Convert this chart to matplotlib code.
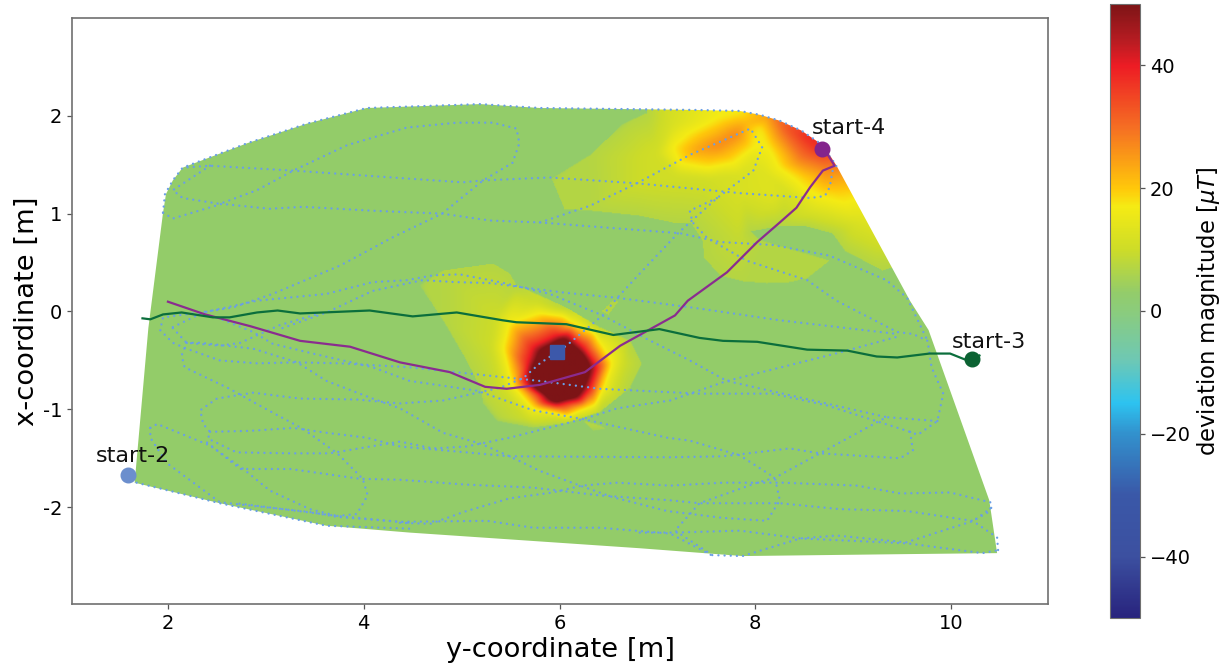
import matplotlib
matplotlib.use('Agg')
import matplotlib.pyplot as plt
import numpy as np
from matplotlib.colors import LinearSegmentedColormap
from matplotlib.patches import Polygon
from matplotlib.path import Path
from matplotlib.tri import Triangulation, LinearTriInterpolator

# colour scale
cmap_values = [-50, -40, -30, -20, -15, -8, 0, 3, 10, 17, 20, 30, 40, 44, 50]
cmap_colors = ['#28237d', '#3c50a0', '#3a58a8', '#3291cd', '#2dc3f0', '#6ec8b4', '#8bcc7c',
               '#93cc6a', '#cddc28', '#f5eb14', '#ffc80a', '#f56e23', '#ed1c24', '#b81c22', '#7d1416']

# measured area outline (y, x)
area_y = [1.66, 1.80, 1.95, 1.98, 2.05, 2.15, 2.81, 3.42, 4.03, 5.19, 5.80, 7.40, 7.84, 8.05, 8.25, 8.47, 8.66, 8.76,
          8.83, 9.58, 9.77, 10.39, 10.47, 9.54, 7.87, 6.82, 4.47, 3.62, 2.53]
area_x = [-1.75, -0.17, 1.01, 1.20, 1.34, 1.47, 1.72, 1.92, 2.08, 2.12, 2.08, 2.06, 2.05, 2.01, 1.95, 1.85, 1.72, 1.60,
          1.49, 0.11, -0.19, -1.93, -2.47, -2.48, -2.50, -2.42, -2.26, -2.19, -1.96]
base_value = 3

# deviation blob around the box: outer edge and inner rings
blob1_edge = [(4.57, 0.27), (4.81, 0.42), (5.32, 0.49), (5.49, 0.39), (5.56, 0.27), (6.07, 0.04), (6.41, -0.16),
              (6.72, -0.30), (6.84, -0.53), (6.72, -0.78), (6.41, -1.03), (6.07, -1.14), (5.73, -1.19),
              (5.36, -1.12), (5.22, -0.94), (5.19, -0.78), (5.05, -0.50), (4.81, -0.09)]
blob1_ring10 = [(5.30, -0.35), (5.35, -0.05), (5.75, 0.10), (6.20, -0.02), (6.50, -0.22), (6.66, -0.53),
                (6.56, -0.82), (6.38, -1.02), (6.00, -1.10), (5.65, -1.08), (5.40, -0.78)]
blob1_ring17 = [(5.43, -0.37), (5.49, -0.12), (5.80, -0.02), (6.14, -0.12), (6.41, -0.33), (6.53, -0.53),
                (6.44, -0.78), (6.28, -0.98), (6.00, -1.04), (5.73, -0.98), (5.52, -0.74)]
blob1_ring40 = [(5.68, -0.53), (5.73, -0.37), (5.97, -0.25), (6.24, -0.37), (6.38, -0.57), (6.31, -0.78),
                (6.03, -0.94), (5.80, -0.84)]
blob1_core = [(5.77, -0.60), (5.87, -0.42), (6.03, -0.33), (6.21, -0.48), (6.24, -0.63), (6.14, -0.84),
              (5.97, -0.89), (5.80, -0.78)]
blip_a = [(6.43, 0.00), (6.55, 0.12), (6.60, 0.10), (6.50, -0.03)]
blip_b = [(6.25, -1.12), (6.42, -1.17), (6.47, -1.20), (6.35, -1.22)]

# deviation blob in the top right corner
blob2_edge = [(6.89, 2.03), (6.65, 1.92), (6.31, 1.60), (5.92, 1.36), (6.05, 1.05), (6.34, 1.03), (6.82, 0.98),
              (7.16, 0.91), (7.35, 0.90), (7.46, 0.73), (7.48, 0.55), (7.64, 0.37), (7.88, 0.31), (8.12, 0.29),
              (8.35, 0.30), (8.53, 0.34), (8.76, 0.52), (8.05, 0.73), (7.95, 0.82), (8.28, 0.88), (8.53, 0.87),
              (8.79, 0.80), (8.92, 0.62), (9.30, 0.42), (9.40, 0.45)]
blob2_cap = [(10.2, 0.45), (9.6, 2.4), (7.0, 2.4)]
blob2_y = [7.16, 7.33, 7.61, 7.84, 7.23, 7.51, 7.77, 7.98, 8.05, 7.61, 7.81, 7.40, 7.91, 8.14, 8.25, 8.49, 8.69,
           9.03, 8.12, 8.32, 8.53, 8.66, 8.45, 8.73, 8.86, 8.53, 8.86, 7.84, 6.82, 6.65, 7.16, 8.18, 7.84, 9.03,
           9.20, 9.5, 9.0, 9.2, 7.9, 7.0, 9.7,
           7.00, 7.15, 7.20, 7.55, 7.85, 8.10, 7.98, 8.30, 8.60]
blob2_x = [1.68, 1.83, 1.97, 2.04, 1.52, 1.47, 1.52, 1.68, 1.87, 1.70, 1.82, 1.65, 1.92, 1.68, 1.47, 1.27, 1.17,
           1.16, 1.98, 1.88, 1.78, 1.68, 1.54, 1.44, 1.41, 1.37, 1.24, 1.24, 1.31, 1.58, 1.92, 1.17, 0.73, 0.90,
           0.62, 0.90, 1.50, 2.20, 2.30, 2.20, 0.45,
           1.62, 1.90, 1.40, 1.36, 1.40, 1.42, 1.58, 1.25, 1.05]
blob2_v = [17, 17, 17, 17, 17, 17, 17, 17, 17, 27, 27, 24, 22, 17, 17, 17, 17,
           17, 24, 33, 38, 38, 27, 27, 25, 20, 20, 12, 10, 9, 12, 13, 9, 12,
           9, 15, 30, 35, 17, 9, 8,
           11, 12, 11, 11, 12, 13, 14, 12, 13]

# walked paths
purple_y = [2.00, 2.38, 2.84, 3.35, 3.86, 4.37, 4.88, 5.24, 5.46, 5.80, 6.26, 6.62, 7.00, 7.18, 7.31, 7.71, 8.02,
            8.25, 8.42, 8.56, 8.69, 8.81, 8.73, 8.68]
purple_x = [0.10, -0.03, -0.15, -0.30, -0.36, -0.52, -0.62, -0.77, -0.79, -0.75, -0.62, -0.35, -0.14, -0.04, 0.11,
            0.40, 0.71, 0.91, 1.06, 1.27, 1.44, 1.49, 1.62, 1.66]
green_y = [1.74, 1.82, 1.95, 2.14, 2.46, 2.63, 2.91, 3.12, 3.35, 4.06, 4.50, 4.95, 5.42, 5.56, 6.07, 6.55, 7.02,
           7.43, 7.67, 8.02, 8.53, 8.94, 9.24, 9.45, 9.78, 9.99, 10.14, 10.21, 10.29]
green_x = [-0.07, -0.08, -0.03, -0.01, -0.06, -0.06, -0.01, 0.01, -0.02, 0.01, -0.05, -0.01, -0.09, -0.11, -0.13,
           -0.24, -0.18, -0.27, -0.30, -0.31, -0.39, -0.40, -0.46, -0.47, -0.43, -0.43, -0.49, -0.49, -0.45]

# dotted trajectory pieces, (y, x)
dotted_paths = [
    [(1.95, 1.01), (1.97, 1.20), (2.05, 1.34), (2.15, 1.47), (2.81, 1.72), (3.42, 1.92), (4.03, 2.08), (5.19, 2.12),
     (5.80, 2.08), (7.40, 2.06), (7.84, 2.05), (8.05, 2.01), (8.25, 1.95), (8.47, 1.85), (8.66, 1.72), (8.83, 1.49),
     (8.79, 1.44), (8.76, 1.27), (8.71, 1.18), (8.56, 1.16), (7.84, 1.21), (6.79, 1.31), (5.90, 1.37), (5.22, 1.34),
     (5.01, 1.32), (3.28, 1.44), (2.43, 1.49), (2.15, 1.47)],
    [(2.43, 1.49), (2.05, 1.24), (2.15, 1.16), (2.53, 1.10), (2.91, 1.24), (3.28, 1.44), (3.83, 1.70), (4.44, 1.88),
     (4.95, 1.93), (5.32, 1.93), (5.56, 1.87), (5.59, 1.72), (5.52, 1.52), (5.22, 1.34), (4.80, 1.00), (4.30, 0.76),
     (3.76, 0.47), (3.07, 0.18), (2.66, 0.04), (2.33, -0.01), (1.95, -0.06), (1.92, -0.19), (2.05, -0.32),
     (2.19, -0.38), (2.53, -0.50), (2.91, -0.53), (3.32, -0.52), (3.76, -0.53), (4.47, -0.57), (5.22, -0.65),
     (5.80, -0.71), (6.41, -0.79), (7.43, -0.84), (8.18, -0.84), (8.73, -0.96), (9.55, -1.22), (9.66, -1.26),
     (9.86, -1.12), (9.92, -0.84), (9.80, -0.57), (9.76, -0.30), (9.61, -0.23), (9.45, -0.21), (8.83, 0.11),
     (8.53, 0.32), (7.91, 0.52), (7.51, 0.75), (7.36, 0.91), (7.33, 1.03), (7.61, 1.16)],
    [(1.95, 1.01), (2.05, 0.95), (2.55, 1.10), (3.04, 1.05), (3.38, 1.07), (4.09, 1.03), (4.80, 1.00), (5.29, 0.93),
     (5.80, 0.91), (6.31, 1.08), (6.79, 1.31), (7.33, 1.60), (7.95, 1.87), (8.07, 1.68), (7.98, 1.44), (7.61, 1.16),
     (7.21, 0.80), (6.85, 0.42), (6.59, 0.14), (6.44, -0.04), (6.07, -0.35), (5.80, -0.53), (5.63, -0.68),
     (5.39, -0.78), (4.81, -0.91), (4.37, -0.94), (3.93, -0.90), (3.35, -0.89), (2.87, -0.83), (2.50, -0.89),
     (2.33, -1.01), (2.36, -1.15), (2.43, -1.23), (2.41, -1.30), (2.70, -1.44), (3.25, -1.45), (3.65, -1.45),
     (4.37, -1.33), (4.71, -1.40), (5.05, -1.38), (5.49, -1.29), (6.24, -1.10), (6.59, -0.99), (7.13, -0.91),
     (7.71, -0.71), (8.86, -0.42), (9.48, -0.25)],
    [(5.80, 0.91), (7.23, 0.80), (7.64, 0.71), (8.18, 0.68), (8.76, 0.57), (9.34, 0.32), (9.55, 0.14), (9.76, -0.30)],
    [(9.86, -1.12), (9.34, -1.08), (8.66, -1.45), (8.20, -1.70), (8.02, -1.75), (7.43, -1.96), (7.18, -2.24),
     (7.56, -2.49), (7.87, -2.50), (8.46, -2.32), (8.83, -2.29), (9.54, -2.36), (10.23, -2.14), (10.42, -2.00)],
    [(2.05, -0.16), (2.36, -0.01), (2.91, 0.11), (3.62, 0.18), (4.09, 0.30), (4.44, 0.32), (4.71, 0.37), (4.98, 0.38),
     (5.39, 0.30), (5.90, 0.18), (6.44, -0.04), (6.89, -0.28), (7.33, -0.50), (7.71, -0.71), (8.46, -0.88),
     (9.34, -1.08)],
    [(3.17, -0.17), (3.62, -0.01), (4.09, 0.21), (4.60, 0.32), (4.95, 0.30), (5.30, 0.29), (5.60, 0.25), (6.07, 0.19),
     (6.59, 0.14), (7.43, 0.03), (8.25, -0.09), (9.45, -0.23)],
    [(2.05, -0.17), (2.19, -0.32), (2.53, -0.35), (2.74, -0.32), (3.14, -0.14), (3.55, -0.02)],
    [(2.19, -0.32), (2.33, -0.32), (2.87, -0.38), (3.32, -0.52), (3.62, -0.71), (4.09, -0.89), (4.37, -0.99),
     (4.81, -1.24), (5.19, -1.35), (5.49, -1.48), (5.80, -1.63), (6.21, -1.78), (6.55, -1.90), (7.10, -2.04),
     (7.67, -2.11), (8.12, -2.14), (8.25, -1.93), (8.20, -1.70)],
    [(2.19, -0.32), (2.14, -0.45), (2.17, -0.57), (2.63, -0.79), (2.97, -0.98), (3.38, -1.20), (3.73, -1.45),
     (3.99, -1.71), (4.04, -1.88), (3.93, -2.07), (3.73, -2.09), (2.70, -1.96)],
    [(2.50, -0.06), (2.87, -0.21), (3.07, -0.33), (3.48, -0.43), (4.09, -0.57), (4.47, -0.71), (5.16, -0.81),
     (5.73, -1.01), (6.24, -1.10), (7.10, -1.29), (7.33, -1.32), (7.84, -1.47), (8.20, -1.70)],
    [(2.43, -1.23), (2.84, -1.22), (3.28, -1.19), (3.62, -1.24), (4.03, -1.29), (4.37, -1.38), (5.05, -1.44),
     (5.49, -1.48), (7.13, -1.49), (7.67, -1.48), (8.35, -1.40), (8.66, -1.45), (9.48, -1.50), (9.61, -1.42),
     (9.58, -1.22)],
    [(2.40, -1.34), (2.74, -1.61), (3.25, -1.61), (3.96, -1.71), (4.37, -1.72), (5.05, -1.77), (5.73, -1.80),
     (6.41, -1.88), (7.13, -1.93), (7.43, -1.96), (8.25, -1.96), (8.86, -2.02), (9.55, -2.04), (10.22, -2.14),
     (10.47, -2.31), (10.48, -2.44)],
    [(4.37, -2.16), (4.68, -2.17), (5.05, -2.04), (5.49, -1.91), (5.93, -1.85), (6.23, -1.78), (6.59, -1.75),
     (7.13, -1.78), (7.67, -1.75), (8.28, -1.75), (9.04, -1.78), (9.48, -1.86), (9.99, -1.85), (10.40, -1.95),
     (10.40, -2.04), (10.22, -2.14)],
    [(1.82, -1.19), (1.89, -1.15), (2.43, -1.37), (2.77, -1.61), (3.04, -1.83), (3.45, -2.02), (3.73, -2.09),
     (4.47, -2.16)],
    [(1.82, -1.19), (1.82, -1.29), (1.99, -1.55), (2.53, -1.95), (3.45, -2.05), (3.73, -2.10), (4.37, -2.15),
     (5.26, -2.14), (5.73, -2.21), (6.41, -2.21), (7.13, -2.27), (7.55, -2.49)],
    [(6.82, -2.26), (7.18, -2.26), (7.84, -2.24), (8.46, -2.32), (9.55, -2.37), (10.32, -2.47), (10.48, -2.44)],
    [(1.68, -1.75), (2.53, -1.96), (3.62, -2.19), (4.47, -2.22)],
]

# start markers
start2 = (1.59, -1.67)
start3 = (10.21, -0.49)
start4 = (8.68, 1.66)
box_pos = (5.97, -0.41)

plt.rcParams['font.family'] = 'DejaVu Sans'
fig = plt.figure(figsize=(12.28, 6.69), dpi=100)
ax = fig.add_axes([72 / 1228, 1 - 604 / 669, 976 / 1228, 586 / 669])
cax = fig.add_axes([1110 / 1228, 1 - 618 / 669, 30 / 1228, 614 / 669])

low, high = cmap_values[0], cmap_values[-1]
pos = [(v - low) / (high - low) for v in cmap_values]
cmap = LinearSegmentedColormap.from_list('dev', list(zip(pos, cmap_colors)), N=512)

# sampled rings -> grid, the blob outlines cut it off sharply against the base value
pts, vals = [], []
for ring, v in [(blob1_edge, 7), (blob1_ring10, 10), (blob1_ring17, 17), (blob1_ring40, 40), (blob1_core, 62),
                (blob2_edge, 7), (blip_a, 7), (blip_b, 7)]:
    pts += ring
    vals += [v] * len(ring)
pts += list(zip(blob2_y, blob2_x))
vals += blob2_v
pts = np.array(pts)
tri = Triangulation(pts[:, 0], pts[:, 1])
interp = LinearTriInterpolator(tri, np.array(vals, dtype=float))

gy = np.linspace(1.5, 10.6, 911)
gx = np.linspace(-2.6, 2.2, 481)
yy, xx = np.meshgrid(gy, gx)
field = np.ma.filled(interp(yy, xx), base_value).astype(float)

# soften the facets of the linear interpolation
k = np.ones(7) / 7
for _ in range(2):
    field = np.apply_along_axis(lambda r: np.convolve(r, k, mode='same'), 1, field)
    field = np.apply_along_axis(lambda c: np.convolve(c, k, mode='same'), 0, field)

inside = np.zeros(yy.shape, dtype=bool)
grid_pts = np.column_stack([yy.ravel(), xx.ravel()])
for poly in [blob1_edge, blob2_edge + blob2_cap, blip_a, blip_b]:
    inside |= Path(poly + [poly[0]]).contains_points(grid_pts).reshape(yy.shape)
values = np.where(inside, field, base_value)

im = ax.imshow(values, extent=[gy[0], gy[-1], gx[0], gx[-1]], origin='lower', aspect='auto',
               cmap=cmap, vmin=-50, vmax=50, interpolation='bilinear')
outline = Polygon(np.column_stack([area_y, area_x]), closed=True, transform=ax.transData, fc='none', ec='none')
ax.add_patch(outline)
im.set_clip_path(outline)

for path in dotted_paths:
    p = np.array(path)
    ax.plot(p[:, 0], p[:, 1], color='#6a9fe6', lw=1.7, ls=(0, (0.01, 2.6)), dash_capstyle='round', zorder=3)

ax.plot(purple_y, purple_x, color='#8a2c8f', lw=1.6, zorder=4)
ax.plot(green_y, green_x, color='#0b6e3c', lw=1.6, zorder=4)

ax.plot(*start2, 'o', color='#6b8ecd', ms=10.5, zorder=5)
ax.plot(*start3, 'o', color='#0b6232', ms=10.5, zorder=5)
ax.plot(*start4, 'o', color='#84248c', ms=10.5, zorder=5)
ax.plot(*box_pos, 's', color='#3c58aa', ms=10, zorder=5)

ax.text(1.64, -1.48, 'start-2', fontsize=16, ha='center', va='center', color='#111111', zorder=6)
ax.text(10.39, -0.31, 'start-3', fontsize=16, ha='center', va='center', color='#111111', zorder=6)
ax.text(8.96, 1.88, 'start-4', fontsize=16, ha='center', va='center', color='#111111', zorder=6)

ax.set_xlim(1.02, 10.99)
ax.set_ylim(-2.99, 3.0)
ax.set_xticks([2, 4, 6, 8, 10])
ax.set_yticks([-2, -1, 0, 1, 2])
ax.set_yticklabels(['-2', '-1', '0', '1', '2'])
ax.tick_params(labelsize=14, length=3.5, width=0.9, color='#555555')
ax.set_xlabel('y-coordinate [m]', fontsize=19.7, labelpad=3)
ax.set_ylabel('x-coordinate [m]', fontsize=19.7, labelpad=2)
for s in ax.spines.values():
    s.set_color('#707070')
    s.set_linewidth(1.2)

cb = fig.colorbar(im, cax=cax)
cb.set_ticks([-40, -20, 0, 20, 40])
cb.ax.tick_params(labelsize=14, length=3.5, width=0.9, color='#555555')
cb.set_label('deviation magnitude [$\\mu T$]', fontsize=16.4, labelpad=3)
cb.outline.set_edgecolor('#707070')

fig.savefig('out.png', dpi=100)
